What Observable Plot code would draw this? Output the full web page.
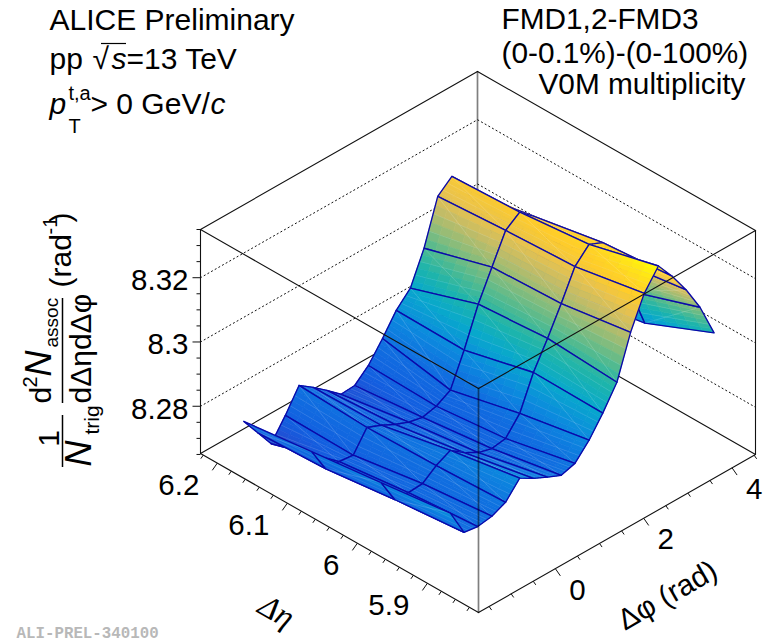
<!DOCTYPE html>
<html><head><meta charset="utf-8">
<script src="https://cdn.jsdelivr.net/npm/d3@7"></script>
<script src="https://cdn.jsdelivr.net/npm/@observablehq/plot@0.6"></script>
<style>html,body{margin:0;padding:0;background:#fff}svg{display:block}</style>
</head><body><div id="chart"></div>
<script>
// Δφ bin centres (rad)
const dphi = [-1.41,-1.10,-0.79,-0.47,-0.16,0.16,0.47,0.79,1.10,1.41,1.73,2.04,2.36,2.67,2.98,3.30,3.61,3.93,4.24,4.56];
// Δη rows, back to front
const deta = [6.183,6.086,5.987,5.888];
// yield per row
const zRow0 = [8.2778,8.2719,8.2660,8.2723,8.2792,8.2761,8.2727,8.2690,8.2693,8.2731,8.2790,8.2853,8.2897,8.2997,8.3134,8.3171,8.3103,8.3017,8.2914,8.2796];
const zRow1 = [8.2805,8.2728,8.2725,8.2720,8.2782,8.2764,8.2742,8.2724,8.2715,8.2725,8.2750,8.2850,8.2968,8.3059,8.3149,8.3181,8.3144,8.3044,8.2942,8.2824];
const zRow2 = [8.2832,8.2755,8.2752,8.2755,8.2787,8.2809,8.2778,8.2753,8.2741,8.2748,8.2801,8.2904,8.2985,8.3069,8.3160,8.3204,8.3185,8.3105,8.2984,8.2860];
const zRow3 = [8.2860,8.2776,8.2770,8.2777,8.2796,8.2846,8.2821,8.2800,8.2781,8.2794,8.2841,8.2901,8.2972,8.3103,8.3200,8.3260,8.3204,8.3136,8.3058,8.2953];
const zRows = [zRow0,zRow1,zRow2,zRow3];
// axis ranges and ticks
const phiRange = [-1.74,4.53], etaRange = [6.224,5.827], zRange = [8.2653,8.335];
const zTicks = d3.range(0,15).map(i=>+(8.265+i*0.005).toFixed(3)).filter(t=>t>=zRange[0]-0.0005);
const zMajor = [8.28,8.30,8.32], zLabels = ["8.28","8.3","8.32"];
const etaTicks = d3.range(0,20).map(i=>+(5.84+i*0.02).toFixed(2));
const etaMajor = [6.2,6.1,6.0,5.9], etaLabels = ["6.2","6.1","6","5.9"];
const phiTicks = d3.range(-1.5,4.51,0.5);
const phiMajor = [0,2,4], phiLabels = ["0","2","4"];
// palette
const colorZ = [8.2653,8.2685,8.2715,8.2777,8.2840,8.2902,8.2955,8.3004,8.3057,8.3104,8.3144,8.3182,8.3204,8.3240,8.3260];
const colorC = ["#2a3cb4","#2050d4","#125fe0","#106ee0","#0b8ade","#08a8cc","#1cb4ac","#50ba90","#90bc78","#c4bc66","#e8c24e","#ffcc2a","#ffd425","#ffee10","#ffff00"];

const font = "'Liberation Sans',Arial,sans-serif";
const U = d3.scaleLinear().domain(etaRange).range([0,1]);
const V = d3.scaleLinear().domain(phiRange).range([0,1]);
const H = d3.scaleLinear().domain(zRange).range([0,224]);
const px = (p,e)=>200+278*U(e)+277*V(p);
const py = (p,e,z)=>453+159*U(e)-158*V(p)-H(z);
const P = (p,e,z)=>({X:px(p,e),Y:py(p,e,z),z});

const marks = [];
const seg = (pts,o)=>marks.push(Plot.line(pts,{x:"X",y:"Y",curve:"linear",...o}));
const [p0,p1]=phiRange,[e0,e1]=etaRange,[z0,z1]=zRange;
const black={stroke:"#111",strokeWidth:1.1};
const gray={stroke:"#000",strokeOpacity:0.5,strokeWidth:1.7};

// back walls
for(const t of zMajor) seg([P(p0,e0,t),P(p1,e0,t),P(p1,e1,t)],{stroke:"#111",strokeWidth:1,strokeDasharray:"1.2,3"});
seg([P(p0,e0,z0),P(p1,e0,z0),P(p1,e1,z0)],black);
seg([P(p0,e0,z1),P(p1,e0,z1),P(p1,e1,z1)],black);
seg([P(p1,e0,z0),P(p1,e0,z1)],gray);

// surface, painted from the far corner
const K=6;
const lerp=(a,b,t)=>a+(b-a)*t;
for(let r=0;r<deta.length-1;r++){
  for(let n=dphi.length-2;n>=0;n--){
    const corner=(a,b)=>{ // a along phi, b along eta
      const p=lerp(dphi[n],dphi[n+1],a), e=lerp(deta[r],deta[r+1],b);
      const z=lerp(lerp(zRows[r][n],zRows[r][n+1],a),lerp(zRows[r+1][n],zRows[r+1][n+1],a),b);
      return P(p,e,z);
    };
    const facets=[];
    for(let j=0;j<K;j++)for(let i=K-1;i>=0;i--){
      const a=corner(i/K,j/K),b=corner((i+1)/K,j/K),c=corner((i+1)/K,(j+1)/K),d=corner(i/K,(j+1)/K);
      const zm=(a.z+b.z+c.z+d.z)/4, id=j*K+i;
      for(const q of [a,b,c,d,a]) facets.push({X:q.X,Y:q.Y,id,zm});
    }
    marks.push(Plot.line(facets,{x:"X",y:"Y",z:"id",fill:"zm",stroke:"zm",strokeWidth:0.7,curve:"linear"}));
    // thin pale seams inside a cell
    const seam={stroke:"#fff",strokeOpacity:0.14,strokeWidth:0.7};
    seg([corner(0.33,0),corner(0.33,1)],seam);
    seg([corner(0.67,0),corner(0.67,1)],seam);
    seg([corner(1,0),corner(0,1)],{...seam,strokeOpacity:0.22});
    seg([corner(0,0),corner(1,0),corner(1,1),corner(0,1),corner(0,0)],{stroke:"#0a08aa",strokeWidth:1.35,strokeLinejoin:"round"});
  }
}

// front box edges
seg([P(p0,e0,z1),P(p0,e1,z1),P(p1,e1,z1)],black);
seg([P(p0,e0,z0),P(p0,e1,z0),P(p1,e1,z0)],black);
seg([P(p0,e0,z0),P(p0,e0,z1)],black);
seg([P(p1,e1,z0),P(p1,e1,z1)],black);
seg([P(p0,e1,z0),P(p0,e1,z1)],gray);

// ticks
const tick=(data,pos,dx,dy,major)=>marks.push(Plot.link(data,{
  x1:d=>pos(d).X,y1:d=>pos(d).Y,
  x2:d=>pos(d).X+dx*(major(d)?1:0.5),y2:d=>pos(d).Y+dy*(major(d)?1:0.5),
  stroke:"#111",strokeWidth:1}));
tick(zTicks,t=>P(p0,e0,t),-8,0,t=>zMajor.includes(t));
tick(etaTicks,t=>P(p0,t,z0),-5,7.2,t=>etaMajor.includes(t));
tick(phiTicks,t=>P(t,e1,z0),5,7.2,t=>phiMajor.includes(t));

// tick labels
const tickSize=29.5;
marks.push(Plot.text(zMajor,{x:t=>P(p0,e0,t).X,y:t=>P(p0,e0,t).Y,text:(t,i)=>zLabels[i],dx:-12,dy:3,textAnchor:"end",fontSize:tickSize,fontFamily:font,fill:"#000"}));
marks.push(Plot.text(etaMajor,{x:t=>P(p0,t,z0).X,y:t=>P(p0,t,z0).Y,text:(t,i)=>etaLabels[i],dx:-18,dy:22,textAnchor:"end",fontSize:tickSize,fontFamily:font,fill:"#000"}));
marks.push(Plot.text(phiMajor,{x:t=>P(t,e1,z0).X,y:t=>P(t,e1,z0).Y,text:(t,i)=>phiLabels[i],dx:22,dy:21.5,textAnchor:"middle",fontSize:tickSize,fontFamily:font,fill:"#000"}));

// free text: label, left x, baseline y
const label=(text,x,y,o={})=>marks.push(Plot.text([text],{x:()=>x,y:()=>y,text:d=>d,lineAnchor:"bottom",textAnchor:"start",fontSize:30,fontFamily:font,fill:"#000",...o}));
const it={fontStyle:"italic"};
label("ALICE Preliminary",49,29);
label("pp",49,68);
label("√",92,68);
marks.push(Plot.ruleY([43],{x1:101,x2:126,stroke:"#000",strokeWidth:1.2}));
label("s",111,68,it);
label("=13 TeV",126,68);
label("p",49,113,it);
label("t,a",68,99,{fontSize:20});
label("T",68,132,{fontSize:20});
label("> 0 GeV/",90,113);
label("c",210,113,it);
const right={fontSize:29.8};
label("FMD1,2-FMD3",501,28,right);
label("(0-0.1%)-(0-100%)",501,62,right);
label("V0M multiplicity",538,93,right);

const rot={rotate:-90};
label("1",58,438,{...rot,textAnchor:"middle"});
marks.push(Plot.ruleX([62],{y1:415,y2:467,stroke:"#000",strokeWidth:1.5}));
label("N",90,466,{...rot,...it,fontSize:36});
label("trig",98,434,{...rot,fontSize:21});
label("d",50,403,rot);
label("2",36,387,{...rot,fontSize:20});
label("N",50,376,{...rot,...it,fontSize:36});
label("assoc",57,347,{...rot,fontSize:19});
marks.push(Plot.ruleX([62],{y1:298,y2:403,stroke:"#000",strokeWidth:1.5}));
label("dΔηdΔφ",90,403,rot);
label("(rad",70,287,rot);
label("-1",56,234,{...rot,fontSize:20});
label(")",70,222,rot);

label("Δη",276,611,{rotate:30,textAnchor:"middle",lineAnchor:"middle",fontFamily:"'Liberation Serif',serif",fontStyle:"italic",fontSize:32});
label("Δφ (rad)",667,595,{rotate:-30,textAnchor:"middle",lineAnchor:"middle",fontSize:29.5});
label("ALI-PREL-340100",16,637.5,{fontFamily:"'Liberation Mono',monospace",fontWeight:"bold",fontSize:15.8,fill:"#b8b8b8"});

const chart=Plot.plot({
  width:766,height:643,margin:0,
  x:{domain:[0,766],range:[0,766],axis:null},
  y:{domain:[0,643],range:[0,643],axis:null},
  color:{type:"linear",domain:colorZ,range:colorC,interpolate:"rgb",clamp:true},
  style:{fontFamily:font,background:"#fff",overflow:"visible"},
  marks
});
document.getElementById("chart").append(chart);
</script></body></html>
